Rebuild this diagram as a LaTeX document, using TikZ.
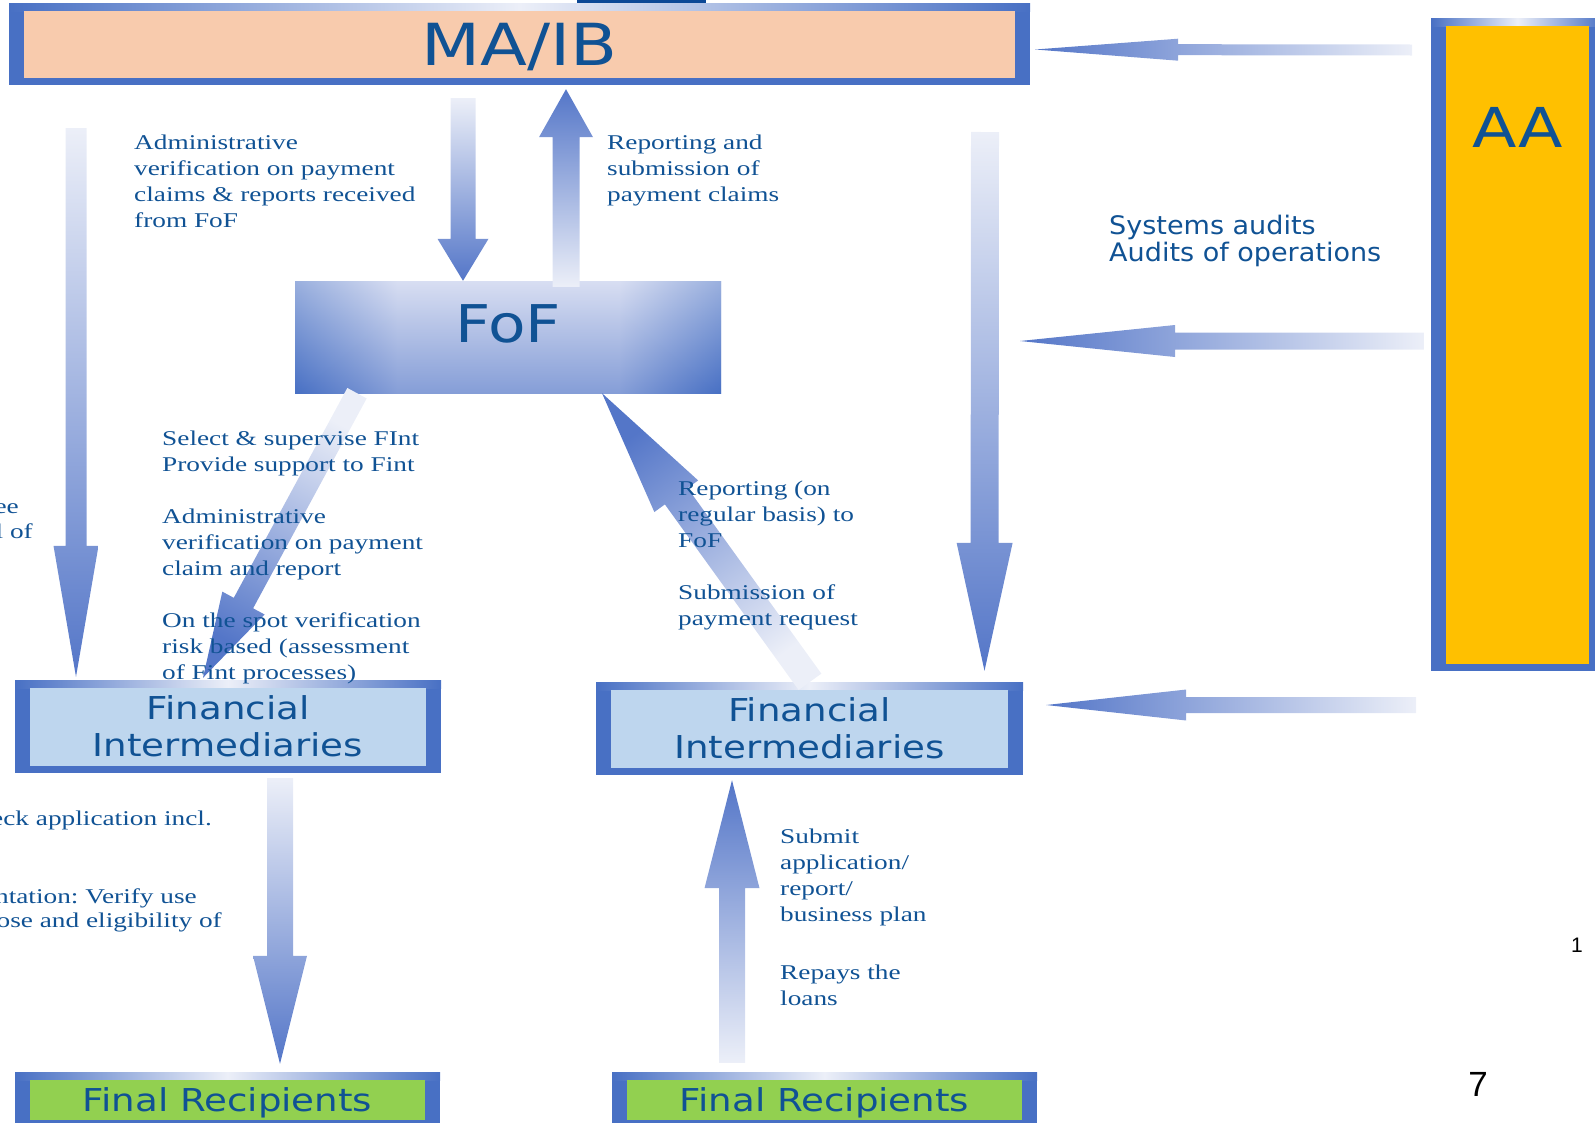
\documentclass[tikz,border=0pt]{standalone}
\usepackage{fontspec}
\newfontfamily\boxfont{DejaVu Sans}[FakeStretch=1.18]
\newfontfamily\notefont{Liberation Serif}[FakeStretch=1.3]
\newfontfamily\auditfont{DejaVu Sans}[FakeStretch=1.06]
\newfontfamily\numfont{Liberation Sans}
\usetikzlibrary{calc}
\frenchspacing

\definecolor{framedark}{RGB}{72,112,196}
\definecolor{framelight}{RGB}{236,239,248}
\definecolor{fofsoft}{RGB}{196,205,236}
\definecolor{arrowdark}{RGB}{84,118,200}
\definecolor{arrowlight}{RGB}{236,239,248}
\definecolor{peach}{RGB}{248,203,173}
\definecolor{fiblue}{RGB}{190,214,238}
\definecolor{frgreen}{RGB}{146,208,80}
\definecolor{aaorange}{RGB}{255,192,0}
\definecolor{labelblue}{RGB}{16,82,148}
\definecolor{topbar}{RGB}{12,72,150}

\pgfdeclarehorizontalshading{fofshade}{100bp}{color(0bp)=(framedark); color(25bp)=(framedark); color(37bp)=(fofsoft); color(63bp)=(fofsoft); color(75bp)=(framedark); color(100bp)=(framedark)}

\newcommand{\fatarrow}[6]{%
  \coordinate (hb) at ($(#2)!#5pt!(#1)$);
  \shade[top color=arrowdark, bottom color=arrowlight, shading angle=#6]
    ($(#1)!#3pt!90:(#2)$) -- ($(hb)!#3pt!90:(#2)$) -- ($(hb)!#4pt!90:(#2)$) -- (#2)
    -- ($(hb)!#4pt!-90:(#2)$) -- ($(hb)!#3pt!-90:(#2)$) -- ($(#1)!#3pt!-90:(#2)$) -- cycle;
}

\begin{document}
\begin{tikzpicture}[x=1pt,y=-1pt,
  boxframe/.style={fill=framedark, inner sep=0pt, text=labelblue, align=center,
    font=\boxfont\fontsize{31.5}{37}\selectfont,
    path picture={
      \shade[left color=framedark, right color=framedark, middle color=framelight]
        (path picture bounding box.north west) rectangle ([yshift=-8pt]path picture bounding box.north east);
      \fill[#1] ([xshift=15pt,yshift=-8pt]path picture bounding box.north west)
        rectangle ([xshift=-15pt,yshift=7pt]path picture bounding box.south east);}},
  fofbox/.style={shade, shading=fofshade, inner sep=0pt, text=labelblue,
    path picture={
      \shade[top color=framelight, bottom color=framedark, fill opacity=0.5]
        (path picture bounding box.north west) rectangle (path picture bounding box.south east);}},
  note/.style={font=\notefont\fontsize{21}{26}\selectfont, text=labelblue, align=left,
    inner sep=0pt, anchor=north west},
  cuttext/.style={font=\notefont\fontsize{21}{26}\selectfont, text=labelblue,
    inner sep=0pt, anchor=base east}]
   \useasboundingbox (0,0) rectangle (1595,1122);
   \clip (0,0) rectangle (1595,1122);
   \fill[topbar] (577,0) rectangle (706,4);

   \node[boxframe=peach, minimum width=1021pt, minimum height=82pt, text depth=0pt,
     font=\boxfont\fontsize{58}{60}\selectfont] (maib) at (519.5,44) {MA/IB};
   \node[fofbox, minimum width=426pt, minimum height=112pt, text depth=26pt,
     font=\boxfont\fontsize{52}{54}\selectfont] (fof) at (508,337) {FoF};
   \node[boxframe=fiblue, minimum width=426pt, minimum height=93pt] (fil) at (228,726.5) {Financial\\Intermediaries};
   \node[boxframe=fiblue, minimum width=427pt, minimum height=93pt] (fir) at (809.5,728.5) {Financial\\Intermediaries};
   \node[boxframe=frgreen, minimum width=425pt, minimum height=55pt, text depth=0pt] (frl) at (227.5,1099.5) {Final Recipients};
   \node[boxframe=frgreen, minimum width=425pt, minimum height=55pt, text depth=0pt] (frr) at (824.5,1099.5) {Final Recipients};
   \node[boxframe=aaorange, minimum width=173pt, minimum height=653pt] (aa) at (1517.5,344.5) {};
   \node[text=labelblue, font=\boxfont\fontsize{55}{57}\selectfont] (aatext) at (1518,127) {AA};

   \coordinate (fintop) at (76,128);
   \coordinate (finl) at ([xshift=-152pt,yshift=3pt]fil.north);
   \coordinate (maibdown) at ([xshift=-56.5pt,yshift=-13pt]maib.south);
   \coordinate (fofin) at ([xshift=-45pt]fof.north);
   \coordinate (fofup) at ([xshift=58pt,yshift=-6pt]fof.north);
   \coordinate (maibin) at ([xshift=46.5pt,yshift=-4pt]maib.south);
   \coordinate (fintopr) at (985,132);
   \coordinate (finr) at ([xshift=175pt,yshift=11pt]fir.north);
   \coordinate (aaone) at (1412,50);
   \coordinate (maibr) at ([xshift=5pt,yshift=-5.5pt]maib.east);
   \coordinate (aatwo) at ([xshift=-7pt,yshift=3.5pt]aa.west);
   \coordinate (audittip) at (1020,341);
   \coordinate (aathree) at (1416,705);
   \coordinate (firr) at ([xshift=23pt,yshift=23.5pt]fir.east);
   \coordinate (fofdl) at ([xshift=-151pt]fof.south);
   \coordinate (fildiag) at ([xshift=-25pt,yshift=2pt]fil.north);
   \coordinate (firdiag) at ([xshift=0.5pt]fir.north);
   \coordinate (fofdr) at ([xshift=94pt]fof.south);
   \coordinate (filout) at ([xshift=52pt,yshift=-5pt]fil.south);
   \coordinate (frlin) at ([xshift=52.5pt,yshift=8pt]frl.north);
   \coordinate (frrout) at ([xshift=-92.5pt,yshift=9pt]frr.north);
   \coordinate (firin) at ([xshift=-77.5pt,yshift=-5pt]fir.south);

   \fatarrow{fintop}{finl}{10.5}{22.5}{131}{180}
   \fatarrow{maibdown}{fofin}{12.5}{25.5}{42}{180}
   \fatarrow{fofup}{maibin}{13.5}{27}{48}{0}
   \fatarrow{fintopr}{finr}{14}{28}{128}{180}
   \fatarrow{aaone}{maibr}{5.5}{11}{143}{90}
   \fatarrow{aatwo}{audittip}{8.5}{16}{155}{90}
   \fatarrow{aathree}{firr}{8}{15.5}{140}{90}
   \fatarrow{fofdl}{fildiag}{11}{24}{85}{151.6}
   \fatarrow{firdiag}{fofdr}{14}{27}{127}{35.7}
   \fatarrow{filout}{frlin}{13}{27}{108}{180}
   \fatarrow{frrout}{firin}{13}{27.5}{108}{0}

   \node[note] (adminmaib) at (134,134.5) {Administrative\\verification on payment\\claims \& reports received\\from FoF};
   \node[note] (reportmaib) at (607,134.5) {Reporting and\\submission of\\payment claims};
   \node[note] (selectfint) at (162,430.5) {Select \& supervise FInt\\Provide support to Fint\\[26pt]Administrative\\verification on payment\\claim and report\\[26pt]On the spot verification\\risk based (assessment\\of Fint processes)};
   \node[note] (reportfof) at (678,480.5) {Reporting (on\\regular basis) to\\FoF\\[26pt]Submission of\\payment request};
   \node[note] (submitfi) at (780,828.5) {Submit\\application/\\report/\\business plan\\[32pt]Repays the\\loans};
   \node[note, font=\auditfont\fontsize{25.5}{27}\selectfont] (audits) at (1109,215) {Systems audits\\Audits of operations};
   \node[cuttext] (cutone) at (19,513) {ee};
   \node[cuttext] (cuttwo) at (33,538) {l of};
   \node[cuttext] (cutthree) at (212,825) {eck application incl.};
   \node[cuttext] (cutfour) at (197,903) {ntation: Verify use};
   \node[cuttext] (cutfive) at (222,927) {ose and eligibility of};
   \node[font=\numfont\fontsize{21}{23}\selectfont] (pgone) at (1577,945) {1};
   \node[font=\numfont\fontsize{35}{37}\selectfont] (pgseven) at (1478,1084) {7};
\end{tikzpicture}
\end{document}
